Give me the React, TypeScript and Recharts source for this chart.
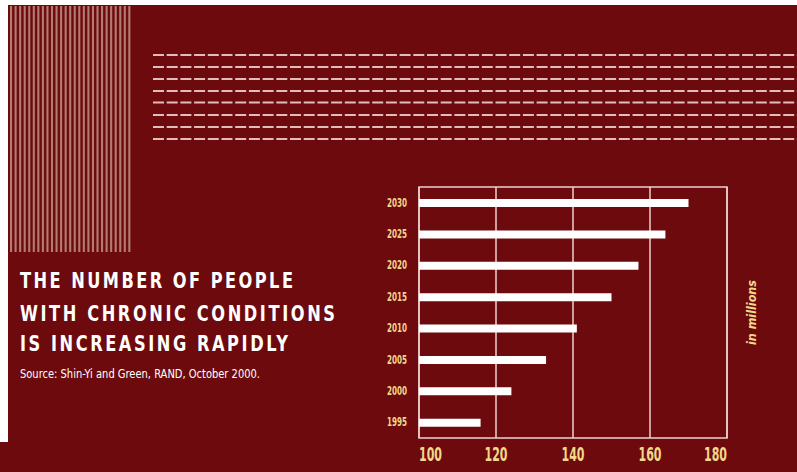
import React from 'react';
import { BarChart, Bar, XAxis, YAxis, CartesianGrid, ReferenceArea } from 'recharts';

const years = ['1995', '2000', '2005', '2010', '2015', '2020', '2025', '2030'];
const people = [116, 124, 133, 141, 150, 157, 164, 170];
const xTicks = [100, 120, 140, 160, 180];
const titleLines = ['THE NUMBER OF PEOPLE', 'WITH CHRONIC CONDITIONS', 'IS INCREASING RAPIDLY'];
const sourceText = 'Source: Shin-Yi and Green, RAND, October 2000.';
const unitText = 'in millions';

const data = years.map((y, i) => ({ year: y, value: people[i] }));

const BG = '#6d0a0d';
const YELLOW = '#f2d88c';
const LINE = '#ecd2d0';
const NARROW = "'Liberation Sans Narrow', 'DejaVu Sans Condensed', 'Liberation Sans', sans-serif";

const XTick = (props: any) => {
  const { x, y, payload, index } = props;
  const last = xTicks.length - 1;
  const anchor = index === 0 ? 'start' : index === last ? 'end' : 'middle';
  return (
    <text
      x={x}
      y={y + 23}
      textAnchor={anchor}
      fill={YELLOW}
      fontSize={20}
      fontFamily={NARROW}
      fontWeight={700}
      textLength={23}
      lengthAdjust="spacingAndGlyphs"
    >
      {payload.value}
    </text>
  );
};

const YTick = (props: any) => {
  const { x, y, payload } = props;
  return (
    <text
      x={x}
      y={y + 4}
      textAnchor="end"
      fill={YELLOW}
      fontSize={11.5}
      fontFamily={NARROW}
      fontWeight={700}
      textLength={20}
      lengthAdjust="spacingAndGlyphs"
    >
      {payload.value}
    </text>
  );
};

const Background = () => {
  const stripes = [];
  for (let i = 0; i < 27; i++) {
    stripes.push(<rect key={i} x={10 + i * 4.55} y={6} width={2.1} height={246} fill="#b27c73" />);
  }
  const dashY = [55, 67, 79, 91, 102.5, 115, 127, 139];
  const titleW = [273, 315, 268];
  const titleBase = [287.5, 320.5, 350.7];
  const sx = 0.88;
  return (
    <svg width={797} height={472} style={{ position: 'absolute', left: 0, top: 0 }}>
      <rect x={0} y={0} width={797} height={472} fill="#ffffff" />
      <rect x={8} y={5} width={789} height={467} fill={BG} />
      <rect x={0} y={442} width={8} height={30} fill={BG} />
      {stripes}
      {dashY.map((dy, i) => (
        <line key={i} x1={153} x2={797} y1={dy} y2={dy} stroke="#e2bcba" strokeWidth={2} strokeDasharray="11 2.7" />
      ))}
      {titleLines.map((t, i) => (
        <text
          key={i}
          x={0}
          y={0}
          transform={`translate(20 ${titleBase[i]}) scale(${sx} 1)`}
          fill="#ffffff"
          fontSize={20.5}
          fontWeight={700}
          fontFamily={NARROW}
          textLength={titleW[i] / sx}
          lengthAdjust="spacing"
        >
          {t}
        </text>
      ))}
      <text x={20} y={377.5} fill="#ffffff" fontSize={11.5} fontFamily={NARROW} textLength={240} lengthAdjust="spacingAndGlyphs">
        {sourceText}
      </text>
      <text
        x={756}
        y={312.5}
        fill={YELLOW}
        fontSize={13}
        fontWeight={700}
        fontStyle="italic"
        fontFamily={NARROW}
        textAnchor="middle"
        textLength={65}
        lengthAdjust="spacingAndGlyphs"
        transform="rotate(-90 756 312.5)"
      >
        {unitText}
      </text>
    </svg>
  );
};

export default function App() {
  return (
    <div style={{ position: 'absolute', left: 0, top: 0, width: 797, height: 472, overflow: 'hidden' }}>
      <Background />
      <div style={{ position: 'absolute', left: 0, top: 0 }}>
        <BarChart
          width={797}
          height={472}
          data={data}
          layout="vertical"
          margin={{ top: 187, right: 70, bottom: 4, left: 379 }}
        >
          <CartesianGrid horizontal={false} stroke={LINE} strokeWidth={1.5} />
          <ReferenceArea x1={100} x2={180} fill="none" stroke={LINE} strokeWidth={1.5} fillOpacity={0} />
          <XAxis
            type="number"
            domain={[100, 180]}
            ticks={xTicks}
            axisLine={false}
            tickLine={false}
            tickSize={0}
            tickMargin={0}
            height={30}
            interval={0}
            tick={<XTick />}
          />
          <YAxis
            type="category"
            dataKey="year"
            reversed
            axisLine={false}
            tickLine={false}
            tickSize={0}
            tickMargin={12}
            width={40}
            interval={0}
            tick={<YTick />}
          />
          <Bar dataKey="value" fill="#ffffff" barSize={8} isAnimationActive={false} />
        </BarChart>
      </div>
    </div>
  );
}
